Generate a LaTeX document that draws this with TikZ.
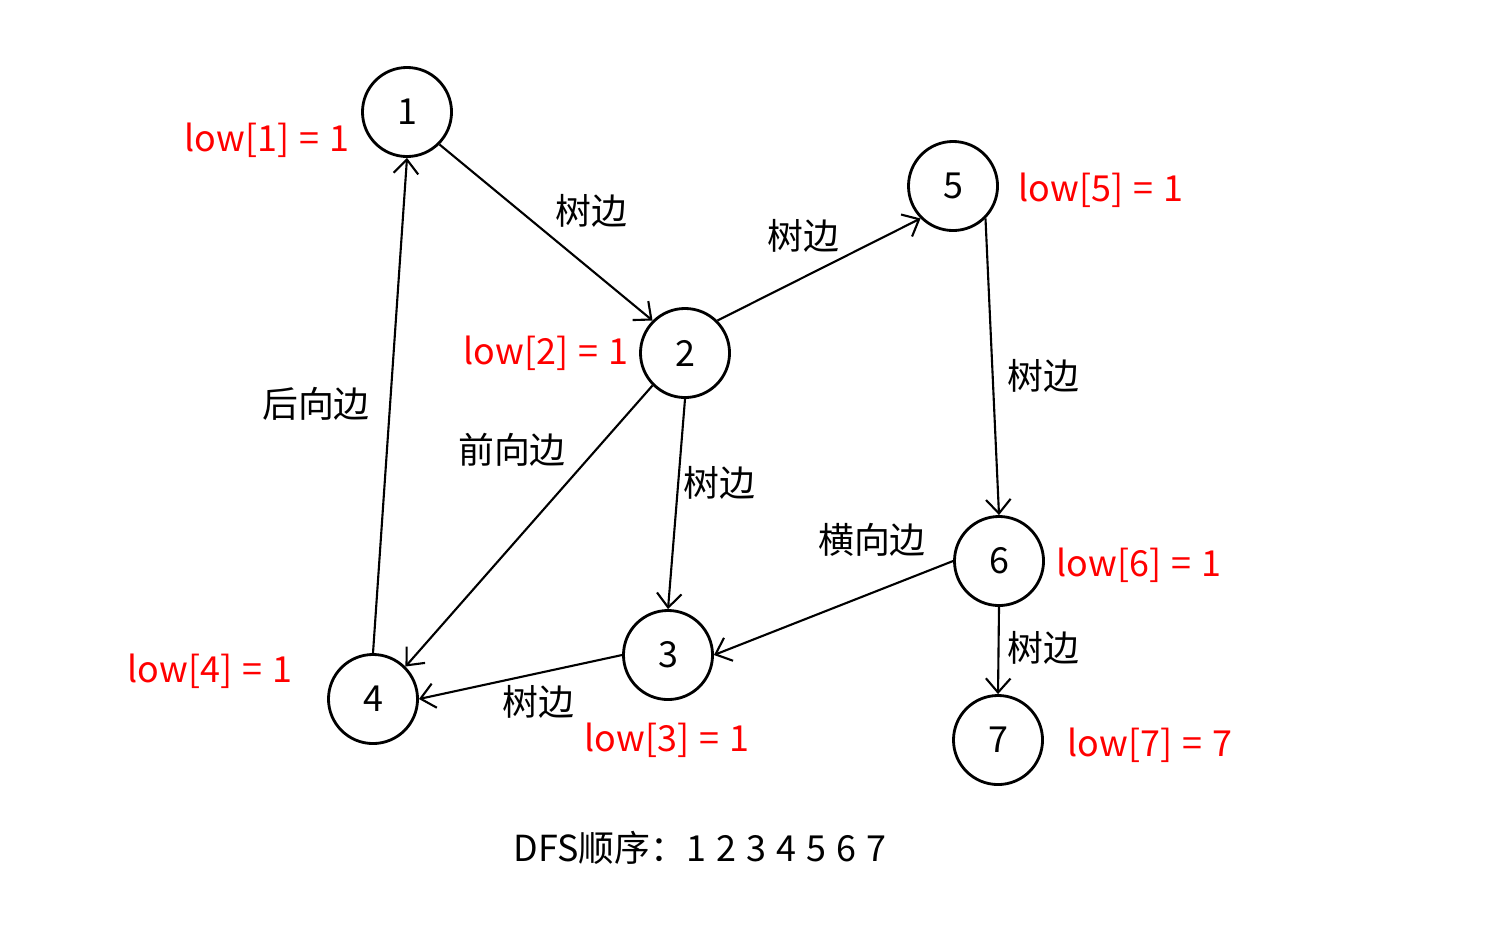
\documentclass[tikz,border=0pt]{standalone}
\usepackage{fontspec}
\setmainfont[WordSpace=1.25]{Noto Sans CJK SC}
\usetikzlibrary{arrows.meta,positioning}
\tikzset{>={Straight Barb[length=4pt,width=7pt]}}

\begin{document}
\begin{tikzpicture}[x=0.01cm, y=-0.01cm, font=\fontsize{10.2}{12}\selectfont]
		\tikzset{vtx/.style={shape=circle,draw,thick,minimum size=0.89cm,inner sep=0pt}}
		\tikzset{lowlbl/.style={text=red}}
		\tikzset{ea/.style={->,semithick}}
		\useasboundingbox (0,0) rectangle (1489,939);

		% Vertices
		\node[vtx] (v1) at (407,112) {1};
		\node[vtx] (v2) at (685,353) {2};
		\node[vtx] (v5) at (953,186) {5};
		\node[vtx] (v6) at (999,561) {6};
		\node[vtx] (v3) at (668,655) {3};
		\node[vtx] (v4) at (373,699) {4};
		\node[vtx] (v7) at (998,740) {7};

		% low values
		\node[lowlbl] (low1) at (267,140) {low[1] = 1};
		\node[lowlbl] (low2) at (546,353) {low[2] = 1};
		\node[lowlbl] (low5) at (1101,190) {low[5] = 1};
		\node[lowlbl] (low6) at (1139,565) {low[6] = 1};
		\node[lowlbl] (low4) at (210,671) {low[4] = 1};
		\node[lowlbl] (low3) at (667,740) {low[3] = 1};
		\node[lowlbl] (low7) at (1150,745) {low[7] = 7};

		% Edges
		\draw[ea] (v1.-45) -- (v2.135);
		\draw[ea] (v2.45) -- (v5.-135);
		\draw[ea] (v5.-45) -- (v6.north);
		\draw[ea] (v2.south) -- (v3.north);
		\draw[ea] (v2.-135) -- (v4.45);
		\draw[ea] (v4.north) -- (v1.south);
		\draw[ea] (v6.west) -- (v3.east);
		\draw[ea] (v3.west) -- (v4.east);
		\draw[ea] (v6.south) -- (v7.north);

		% Edge kinds
		\node (e12) at (591,211) {树边};
		\node (e25) at (803,236) {树边};
		\node (e56) at (1043,376) {树边};
		\node (e23) at (719,483) {树边};
		\node (e24) at (512,450) {前向边};
		\node (e41) at (316,404) {后向边};
		\node (e63) at (872,540) {横向边};
		\node (e34) at (538,702) {树边};
		\node (e67) at (1043,648) {树边};

		% DFS order
		\node (order) at (700,848) {DFS顺序：1 2 3 4 5 6 7};
	\end{tikzpicture}
\end{document}
